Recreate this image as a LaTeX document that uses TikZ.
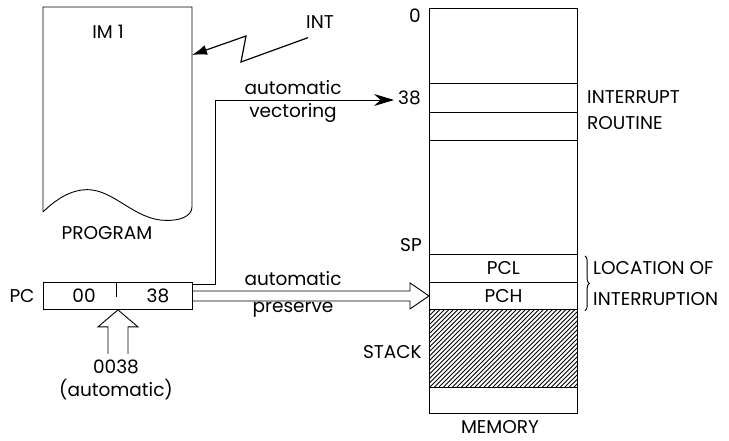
\documentclass[tikz,border=0pt]{standalone}
\usepackage{fontspec}
\setmainfont{Poppins}
\usetikzlibrary{arrows.meta,decorations.pathreplacing,calc}
\begin{document}
\begin{tikzpicture}[x=1pt,y=-1pt,
  txt/.style={inner sep=0pt, font=\fontsize{18.5}{22}\selectfont},
  cell/.style={draw, line width=0.9pt, minimum width=148pt, inner sep=0pt, anchor=north west, font=\fontsize{18.5}{22}\selectfont},
  ln/.style={line width=0.9pt}]
\useasboundingbox (0,0) rectangle (729,441);
% program sheet
\draw[ln] (43,212) -- (43,7) -- (192,7) -- (192,207)
  .. controls (192,216) and (180,222) .. (160,220)
  .. controls (130,216) and (110,186) .. (82,190)
  .. controls (66,192) and (52,203) .. (43,212);
\coordinate (progR) at (192,55);
\node[txt] (im1) at (108,32) {IM 1};
\node[txt] (prog) at (107,233) {PROGRAM};
\node[txt] (int) at (320,22) {INT};
\draw[line width=1.2pt,-{Latex[length=15pt,width=10pt]}] (int.south west) ++(2,9) -- (241,62) -- (246,36) -- (progR);
% PC register
\node[draw, ln, minimum width=149pt, minimum height=27pt, inner sep=0pt, anchor=north west] (pc) at (43,282) {};
\draw[ln] (116,282) -- (116,297);
\node[txt] (pc00) at (84,296) {00};
\node[txt] (pc38) at (158,296) {38};
\node[txt] (pclab) at (22,296) {PC};
% memory
\node[cell, minimum height=75pt] (m0) at (429,8) {};
\node[cell, minimum height=29pt] (m38) at (429,83) {};
\node[cell, minimum height=28pt] (m39) at (429,112) {};
\node[cell, minimum height=114pt] (mfree) at (429,140) {};
\node[cell, minimum height=28pt] (mpcl) at (429,254) {PCL};
\node[cell, minimum height=27pt] (mpch) at (429,282) {PCH};
\node[cell, minimum height=78pt] (mstack) at (429,309) {};
\node[cell, minimum height=26pt] (mend) at (429,387) {};
\begin{scope}
\clip (mstack.south west) rectangle (mstack.north east);
\foreach \x in {349,353.5,...,579} \draw[line width=0.8pt] (\x,387) -- (\x+78,309);
\end{scope}
\node[txt, anchor=east] (a0) at (421,16) {0};
\node[txt, anchor=east] (a38) at (421,98) {38};
\node[txt, anchor=east] (asp) at (422,245) {SP};
\node[txt, anchor=east] (astack) at (422,352) {STACK};
\node[txt, anchor=west] (ir1) at (587,97) {INTERRUPT};
\node[txt, anchor=west] (ir2) at (587,123) {ROUTINE};
\node[txt, anchor=west] (loc1) at (593,268) {LOCATION OF};
\node[txt, anchor=west] (loc2) at (593,299) {INTERRUPTION};
\node[txt] (mem) at (500,427) {MEMORY};
\draw[ln, decorate, decoration={brace, amplitude=4.5pt}] ($(mpcl.north east)+(7,2)$) -- ($(mpch.south east)+(7,1)$);
% vectoring
\draw[ln,-{Stealth[length=20pt,width=12pt]}] ([yshift=-2pt]pc.north east) -- ++(23,0) |- ([xshift=-4pt,yshift=-2pt]a38.west);
\node[txt] (av1) at (293,88) {automatic};
\node[txt] (av2) at (293,113) {vectoring};
% preserve (hollow arrow)
\draw[ln] ($(pc.east)+(0,-5)$) -- ($(mpch.west)+(-19,-5)$) -- ($(mpch.west)+(-19,-13)$) -- (mpch.west) -- ($(mpch.west)+(-19,13)$) -- ($(mpch.west)+(-19,5)$) -- ($(pc.east)+(0,5)$);
\node[txt] (ap1) at (293,279) {automatic};
\node[txt] (ap2) at (293,310) {preserve};
% automatic load arrow
\draw[ln] ($(pc.south)+(-10,44)$) -- ($(pc.south)+(-10,17)$) -- ($(pc.south)+(-20,17)$) -- (pc.south) -- ($(pc.south)+(20,17)$) -- ($(pc.south)+(10,17)$) -- ($(pc.south)+(10,44)$);
\node[txt] (v1) at (116,367) {0038};
\node[txt] (v2) at (116,390) {(automatic)};
\end{tikzpicture}
\end{document}
